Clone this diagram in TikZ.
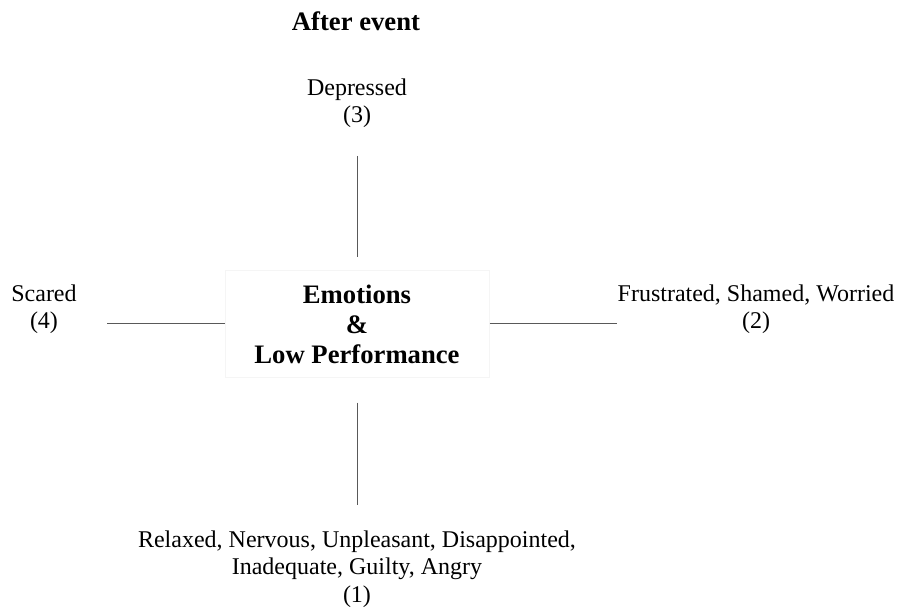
\documentclass[tikz,border=0pt]{standalone}
\usepackage{fontspec}
\setmainfont{Liberation Serif}
\begin{document}
\begin{tikzpicture}[x=0.75pt,y=-0.75pt,
  txt/.style={font=\fontsize{18}{20.6}\selectfont, align=center, inner sep=0pt},
  heading/.style={font=\fontsize{20}{22.5}\selectfont\bfseries, align=center, inner sep=0pt},
  core/.style={draw=black!4, line width=0.75pt, minimum width=198pt, minimum height=79.5pt},
  link/.style={draw=black!65, line width=0.75pt}]
  \useasboundingbox (0,0) rectangle (897,613);

  % title and the central node
  \node[heading] (title) at (356,21) {After event};
  \node[heading, core] (box) at (357,324) {Emotions\\\&\\Low Performance};

  % the four emotion groups
  \node[txt] (dep) at (357,103) {Depressed\\(3)};
  \node[txt] (scared) at (44,309) {Scared\\(4)};
  \node[txt] (frus) at (756,309) {Frustrated, Shamed, Worried\\(2)};
  \node[txt] (rel) at (357,569) {Relaxed, Nervous, Unpleasant, Disappointed,\\Inadequate, Guilty, Angry\\(1)};

  % free ends of the horizontal connectors
  \coordinate (wend) at (107,324);
  \coordinate (eend) at (617,324);

  % connectors
  \draw[link] (box.west) -- (wend);
  \draw[link] (box.east) -- (eend);
  \draw[link, shorten <=21pt, shorten >=9.75pt] (dep) -- (box);
  \draw[link, shorten <=18.75pt, shorten >=18.75pt] (box) -- (rel);
\end{tikzpicture}
\end{document}
